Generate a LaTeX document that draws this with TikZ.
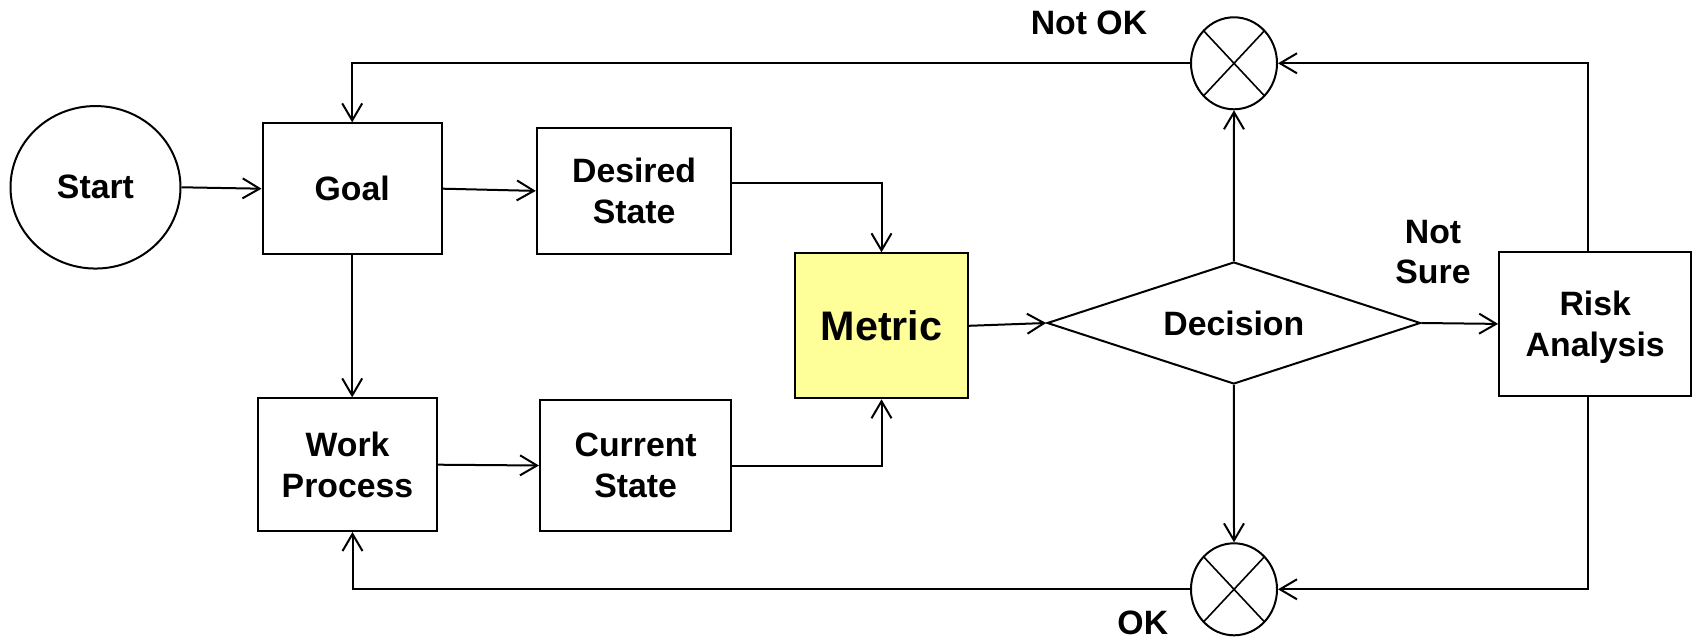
\documentclass[tikz,border=0pt]{standalone}
\usepackage{fontspec}
\setmainfont{Liberation Sans}
\usetikzlibrary{shapes.geometric,arrows.meta}
\definecolor{metricfill}{RGB}{255,255,153}
\begin{document}
\begin{tikzpicture}[x=1pt,y=-1pt,
  every node/.style={font=\bfseries\fontsize{33.8}{41.5}\selectfont, inner sep=0pt},
  box/.style={draw, line width=2pt, rectangle, align=center},
  link/.style={line width=2pt, -{Straight Barb[length=17pt,width=20pt,line width=2pt]}},
  junction/.style={draw, line width=2pt, ellipse, minimum width=86pt, minimum height=92pt,
    path picture={\draw[line width=1.6pt]
      (path picture bounding box.north west) -- (path picture bounding box.south east)
      (path picture bounding box.north east) -- (path picture bounding box.south west);}},
  tag/.style={align=center}
]
\useasboundingbox (0,0) rectangle (1696,639);

% blocks
\node[draw, line width=2pt, ellipse, minimum width=170pt, minimum height=162.5pt] (start) at (95.5,187.3) {Start};
\node[box, minimum width=179.3pt, minimum height=130.7pt] (goal) at (352.2,188.7) {Goal};
\node[box, minimum width=194.6pt, minimum height=126.3pt] (desired) at (634.1,190.9) {Desired\\State};
\node[box, fill=metricfill, minimum width=172.9pt, minimum height=145pt,
      font=\bfseries\fontsize{41.3}{48}\selectfont] (metric) at (881.5,325.8) {Metric};
\node[box, minimum width=178.6pt, minimum height=132.7pt] (work) at (347.5,464.7) {Work\\Process};
\node[box, minimum width=191.4pt, minimum height=131pt] (current) at (635.7,465.5) {Current\\State};
\node[draw, line width=2pt, diamond, aspect=3, minimum width=373.4pt, minimum height=122pt] (dec) at (1233.8,323) {Decision};
\node[box, text depth=0pt, minimum width=192.2pt, minimum height=144.3pt] (risk) at (1595.2,323.9) {Risk\\Analysis};
\node[junction] (notok) at (1234,63.3) {};
\node[junction] (ok) at (1234,589.3) {};

% labels
\node[tag] (lnotok) at (1089,22.8) {Not OK};
\node[tag] (lok) at (1142.8,622.5) {OK};
\node[tag, font=\bfseries\fontsize{33.8}{40}\selectfont] (lnotsure) at (1433,252) {Not\\Sure};

% connectors
\draw[link] (start.east) -- (goal.west);
\draw[link] (goal.east) -- (desired.west);
\draw[link] (goal.south) -- (goal.south |- work.north);
\draw[link] ([yshift=8.2pt]desired.east) -| (metric.north);
\draw[link] (work.east) -- (current.west);
\draw[link] (current.east) -| (metric.south);
\draw[link] (metric.east) -- (dec.west);
\draw[link] (dec.east) -- (risk.west);
\draw[link] (dec.north) -- (notok.south);
\draw[link] (dec.south) -- (ok.north);
\draw[link] ([xshift=-6.8pt]risk.north) |- (notok.east);
\draw[link] ([xshift=-6.8pt]risk.south) |- (ok.east);
\draw[link] (notok.west) -| (goal.north);
\draw[link] (ok.west) -| ([xshift=5pt]work.south);
\end{tikzpicture}
\end{document}
